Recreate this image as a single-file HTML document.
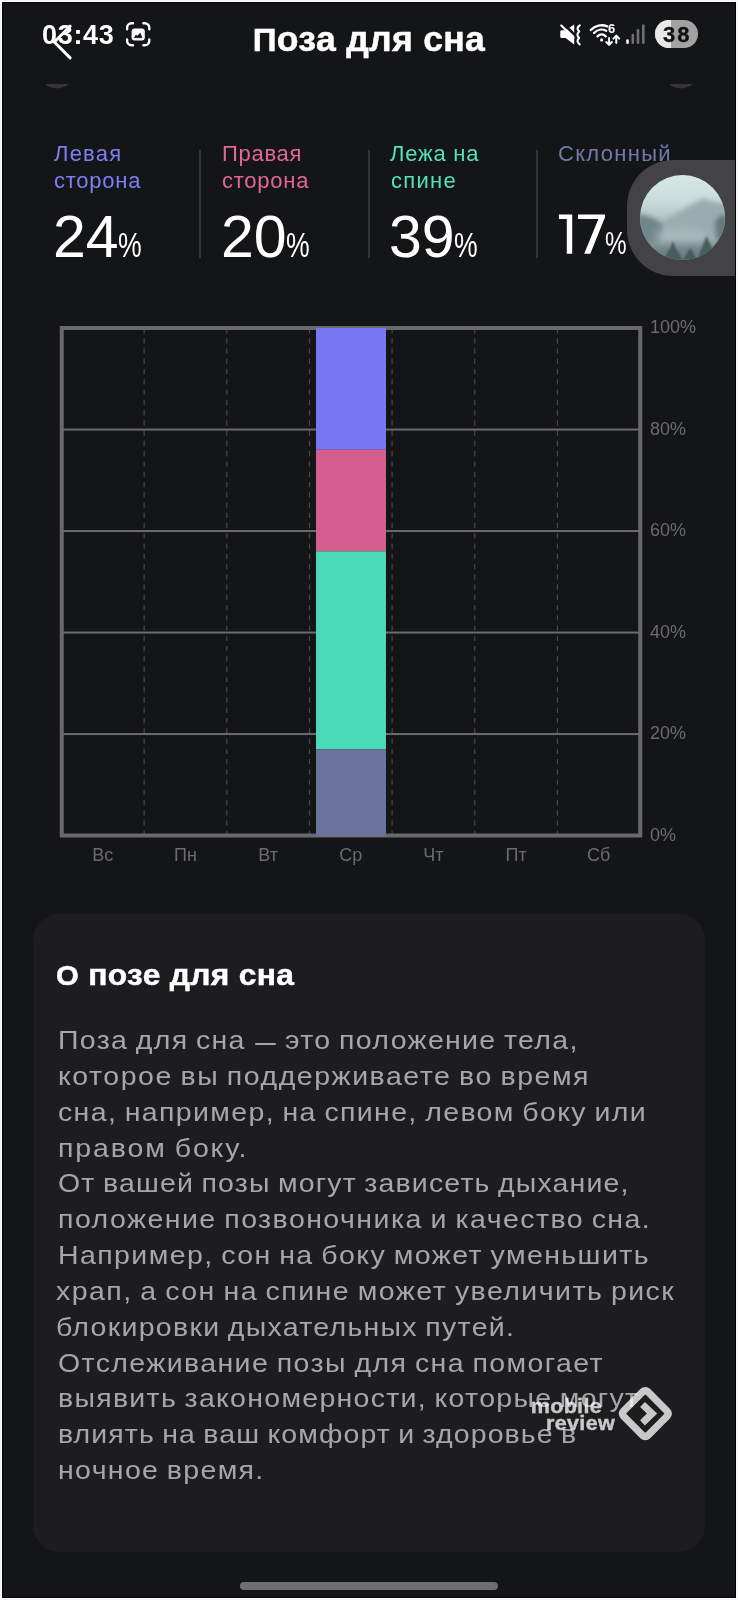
<!DOCTYPE html>
<html lang="ru">
<head>
<meta charset="utf-8">
<title>Поза для сна</title>
<style>
*{margin:0;padding:0;box-sizing:border-box}
html,body{width:738px;height:1600px;background:#f2f2f2;overflow:hidden}
#frame{position:absolute;left:1px;top:1px;width:736px;height:1598px;background:#fff}
body{font-family:"Liberation Sans",sans-serif;position:relative}
#screen{position:absolute;left:2px;top:2px;width:734px;height:1596px;background:#141517;overflow:hidden;border:1px solid #020203}
.abs{position:absolute}
/* coordinates inside #screen are page coords minus 3 (2px offset + 1px border) -> use wrapper */
#w{position:absolute;left:-3px;top:-3px;width:738px;height:1600px;will-change:transform}
.time{left:42px;top:19.8px;font-size:27px;line-height:30px;font-weight:bold;color:#fff;letter-spacing:.7px;white-space:nowrap}
.title{left:0;width:738px;top:19.3px;text-align:center;font-size:34.5px;line-height:40px;font-weight:bold;color:#fff;letter-spacing:.3px;transform:scaleX(1.031);-webkit-text-stroke:.5px #fff;white-space:nowrap}
.title .cap{font-size:32px}
.stat{top:140px;width:160px}
.stat .lbl{font-size:22px;line-height:27px;letter-spacing:.6px;white-space:nowrap}
.stat .num{position:absolute;left:-1px;top:63.5px;font-size:59px;line-height:66px;color:#fff;white-space:nowrap}
.stat .pct{display:inline-block;font-size:35px;transform:scaleX(.76);transform-origin:0 100%;margin-left:-1px}
.vdiv{top:150px;width:2px;height:108px;background:#353537}
.card{left:33px;top:914px;width:672px;height:638px;border-radius:26px;background:#1d1d1f}
.ctitle{left:56.3px;top:956.9px;font-size:30.3px;line-height:36px;font-weight:bold;color:#fff;letter-spacing:.3px;transform:scaleX(1.048);transform-origin:0 0;-webkit-text-stroke:.5px #fff;white-space:nowrap}
.ctitle .cap{font-size:28px}
.ln{left:57.5px;transform:scaleX(1.14);transform-origin:0 0;word-spacing:-1.5px;font-size:25px;line-height:36px;color:#a7a7a9;white-space:nowrap}
.dash{display:inline-block;width:18.9px;height:1.9px;background:#a7a7a9;vertical-align:3.9px;margin:0 1.2px}
.ylab{left:650px;font-size:18px;line-height:20px;color:#6c6c70;white-space:nowrap}
.xlab{top:845px;width:60px;text-align:center;font-size:18px;line-height:20px;color:#6c6c70;white-space:nowrap}
.wm{text-align:right;font-weight:bold;font-size:20.5px;line-height:22px;color:#fff;-webkit-text-stroke:.4px #fff;opacity:.76;letter-spacing:.3px;white-space:nowrap;transform:scaleX(1.05);transform-origin:100% 0}
.handle{left:240px;top:1582px;width:258px;height:8px;border-radius:4px;background:#6f6f71}
</style>
</head>
<body>
<div id="frame"></div>
<div id="screen"><div id="w">

<!-- header -->
<div class="abs time">03:43</div>
<div class="abs title"><span class="cap">П</span>оза для сна</div>


<!-- header icons -->
<svg class="abs" style="left:0;top:0" width="738" height="100" viewBox="0 0 738 100">
  <!-- hidden round buttons slivers -->
  <defs><clipPath id="cl"><rect x="0" y="84" width="738" height="10"/></clipPath></defs>
  <g clip-path="url(#cl)" fill="#343437"><circle cx="57" cy="70.2" r="18.2"/><circle cx="681" cy="70.2" r="18.2"/></g>
  <!-- back chevron -->
  <path d="M70.1 26.2 L54.3 42 L70.1 57.9" fill="none" stroke="#fff" stroke-width="3" stroke-linecap="round" stroke-linejoin="round"/>
  <!-- screenshot icon -->
  <g fill="none" stroke="#fff" stroke-width="2.4" stroke-linecap="round">
    <path d="M127.1 29.2 V27.8 a4.5 4.5 0 0 1 4.5 -4.5 H133"/>
    <path d="M143.4 23.3 H144.8 a4.5 4.5 0 0 1 4.5 4.5 V29.2"/>
    <path d="M149.3 39.4 V40.8 a4.5 4.5 0 0 1 -4.5 4.5 H143.4"/>
    <path d="M133 45.3 H131.6 a4.5 4.5 0 0 1 -4.5 -4.5 V39.4"/>
  </g>
  <rect x="131.6" y="28.4" width="13.2" height="12.2" rx="3" fill="#fff"/>
  <path d="M134.2 37.7 L136 34.9 L137.3 36.2 L140.2 33.1 L142 37.7 Z" fill="#141517" stroke="#141517" stroke-width=".6" stroke-linejoin="round"/>
  <!-- mute -->
  <path d="M560.3 31.6 a1.3 1.3 0 0 1 1.3 -1.3 H565.6 L574.2 24.6 V44.5 L565.6 38 H561.6 a1.3 1.3 0 0 1 -1.3 -1.3 Z" fill="#fff"/>
  <path d="M563.8 24 L575.5 35.7" stroke="#141517" stroke-width="2.6" fill="none"/>
  <path d="M561.3 25.5 L573.5 37.7" stroke="#fff" stroke-width="2.2" stroke-linecap="round" fill="none"/>
  <path d="M579.7 25.3 Q575.6 28.4 579.2 31.4 Q575.6 34.7 579.2 37.9 Q575.6 41.1 579.7 44.3" fill="none" stroke="#fff" stroke-width="2.1" stroke-linecap="round" stroke-linejoin="round"/>
  <!-- wifi -->
  <g fill="none" stroke="#fff" stroke-width="2.3" stroke-linecap="round">
    <path d="M590.8 30 A14.65 14.65 0 0 1 607.3 26.4"/>
    <path d="M594 33 A10.3 10.3 0 0 1 606.2 30.7"/>
    <path d="M597.4 36.4 A5.5 5.5 0 0 1 605.8 36.4"/>
  </g>
  <circle cx="601.6" cy="39.9" r="1.6" fill="#fff"/>
  <text x="607.9" y="33.4" font-family="Liberation Sans, sans-serif" font-weight="bold" font-size="13" fill="#fff">6</text>
  <g fill="none" stroke="#fff" stroke-width="2" stroke-linecap="round" stroke-linejoin="round">
    <path d="M609.1 38 V44.6 M606.3 42 L609.1 44.9 L611.9 42"/>
    <path d="M616.3 43 V36 M613.4 38.6 L616.3 35.6 L619.2 38.6"/>
  </g>
  <!-- signal -->
  <rect x="626.2" y="39.2" width="2.6" height="4.8" rx="1.3" fill="#fff"/>
  <rect x="631.5" y="33.8" width="2.6" height="10.2" rx="1.3" fill="#707072"/>
  <rect x="636.7" y="29" width="2.6" height="15" rx="1.3" fill="#707072"/>
  <rect x="642" y="24.3" width="2.6" height="19.7" rx="1.3" fill="#707072"/>
</svg>
<!-- battery -->
<div class="abs" style="left:654.5px;top:20px;width:43px;height:28px;border-radius:14px;overflow:hidden;background:#a2a2a2">
  <div style="position:absolute;left:0;top:0;width:16.5px;height:28px;background:#e9e9e9"></div>
  <div style="position:absolute;left:0;top:0;width:43px;height:28px;line-height:30px;text-align:center;font-weight:bold;font-size:22px;color:#111;letter-spacing:1.9px;padding-left:2.4px;-webkit-text-stroke:.3px #111">38</div>
</div>

<!-- stats -->
<div class="abs stat" style="left:54px"><div class="lbl" style="color:#7f7ff6"><span style="letter-spacing:1.2px">Левая</span><br><span style="letter-spacing:.75px">сторона</span></div><div class="num">24<span class="pct">%</span></div></div>
<div class="abs stat" style="left:222px"><div class="lbl" style="color:#e0679a"><span style="letter-spacing:.7px">Правая</span><br><span style="letter-spacing:.75px">сторона</span></div><div class="num">20<span class="pct">%</span></div></div>
<div class="abs stat" style="left:390px"><div class="lbl" style="color:#53e2bc"><span style="letter-spacing:.75px">Лежа на</span><br><span style="letter-spacing:1.3px;margin-left:1px">спине</span></div><div class="num">39<span class="pct">%</span></div></div>
<div class="abs stat" style="left:558px"><div class="lbl" style="color:#727aab"><span style="letter-spacing:1.3px">Склонный</span></div><svg style="position:absolute;left:0;top:70px" width="50" height="50" viewBox="558 210 50 50"><path d="M558.9 214.6 H572.2 V253.8 H566.8 V219 H558.9 Z M578 214.6 H605 V217.3 L590.3 253.8 H584.2 L598.4 219 H578 Z" fill="#fff"/></svg><div class="num" style="left:47.5px;top:61px"><span class="pct" style="font-size:32px">%</span></div></div>
<div class="abs vdiv" style="left:199.4px"></div>
<div class="abs vdiv" style="left:368px"></div>
<div class="abs vdiv" style="left:536px"></div>


<!-- floating widget -->
<div class="abs" style="left:626.5px;top:160px;width:140px;height:116px;border-radius:46px 0 0 46px;background:#434345"></div>
<svg class="abs" style="left:639.8px;top:175.3px" width="85" height="85" viewBox="0 0 84 84">
  <defs>
    <clipPath id="cc"><circle cx="42" cy="42" r="42"/></clipPath>
    <linearGradient id="sky" x1="0" y1="0" x2="0" y2="1">
      <stop offset="0" stop-color="#d6e7e6"/><stop offset=".3" stop-color="#cbdcdc"/><stop offset=".5" stop-color="#b4c6c7"/><stop offset=".75" stop-color="#9aaeaf"/><stop offset="1" stop-color="#7b9091"/>
    </linearGradient>
    <filter id="bl" x="-30%" y="-30%" width="160%" height="160%"><feGaussianBlur stdDeviation="2.6"/></filter>
    <filter id="bl2" x="-30%" y="-30%" width="160%" height="160%"><feGaussianBlur stdDeviation="1.1"/></filter>
    <filter id="bl3" x="-30%" y="-30%" width="160%" height="160%"><feGaussianBlur stdDeviation="4"/></filter>
  </defs>
  <g clip-path="url(#cc)">
    <rect width="84" height="84" fill="url(#sky)"/>
    <path d="M22 46 L36 38 L50 30 L62 23 L72 26 L90 30 V60 L60 58 L30 60 Z" fill="#98adae" filter="url(#bl)"/>
    <path d="M-6 38 L6 40 L16 44 L24 50 L20 66 L-6 70 Z" fill="#6f8688" filter="url(#bl)"/>
    <ellipse cx="40" cy="60" rx="26" ry="8" fill="#a9bbbc" filter="url(#bl3)" opacity=".8"/>
    <path d="M74 46 L80 40 L90 40 V70 L76 64 Z" fill="#62797a" filter="url(#bl)"/>
    <rect x="-5" y="70" width="95" height="20" fill="#6c8283" filter="url(#bl3)"/>
    <path d="M22 90 L26 78 L30 72 L32.5 65 L35 72 L39 78 L42 84 L47 76 L50 72 L53 78 L57 84 L60 74 L63.5 66 L66 60 L68.5 67 L72 74 L76 84 L78 90 Z" fill="#475b5c" filter="url(#bl2)"/>
  </g>
</svg>

<!-- chart -->
<svg class="abs" style="left:0;top:300px" width="738" height="580" viewBox="0 300 738 580">
<line x1="144.15" y1="328" x2="144.15" y2="835" stroke="#47474a" stroke-width="1.2" stroke-dasharray="5.3 4.96"/>
<line x1="226.80" y1="328" x2="226.80" y2="835" stroke="#47474a" stroke-width="1.2" stroke-dasharray="5.3 4.96"/>
<line x1="309.45" y1="328" x2="309.45" y2="835" stroke="#47474a" stroke-width="1.2" stroke-dasharray="5.3 4.96"/>
<line x1="392.10" y1="328" x2="392.10" y2="835" stroke="#47474a" stroke-width="1.2" stroke-dasharray="5.3 4.96"/>
<line x1="474.75" y1="328" x2="474.75" y2="835" stroke="#47474a" stroke-width="1.2" stroke-dasharray="5.3 4.96"/>
<line x1="557.40" y1="328" x2="557.40" y2="835" stroke="#47474a" stroke-width="1.2" stroke-dasharray="5.3 4.96"/>
<rect x="62" y="428.55" width="578" height="2" fill="#6c6c70"/>
<rect x="62" y="530.05" width="578" height="2" fill="#6c6c70"/>
<rect x="62" y="631.55" width="578" height="2" fill="#6c6c70"/>
<rect x="62" y="733.05" width="578" height="2" fill="#6c6c70"/>
<rect x="61.75" y="328" width="578.5" height="507.5" fill="none" stroke="#69696d" stroke-width="4"/>
<rect x="316" y="328" width="70" height="121.80" fill="#7878f3"/>
<rect x="316" y="449.8" width="70" height="101.50" fill="#d45f8e"/>
<rect x="316" y="551.3" width="70" height="197.90" fill="#49d9b7"/>
<rect x="316" y="749.2" width="70" height="87.00" fill="#6a739d"/>
</svg>

<div class="abs ylab" style="top:317.0px">100%</div>
<div class="abs ylab" style="top:418.5px">80%</div>
<div class="abs ylab" style="top:520.0px">60%</div>
<div class="abs ylab" style="top:621.5px">40%</div>
<div class="abs ylab" style="top:723.0px">20%</div>
<div class="abs ylab" style="top:824.5px">0%</div>
<div class="abs xlab" style="left:72.8px">Вс</div>
<div class="abs xlab" style="left:155.5px">Пн</div>
<div class="abs xlab" style="left:238.1px">Вт</div>
<div class="abs xlab" style="left:320.8px">Ср</div>
<div class="abs xlab" style="left:403.4px">Чт</div>
<div class="abs xlab" style="left:486.1px">Пт</div>
<div class="abs xlab" style="left:568.7px">Сб</div>

<!-- card -->
<div class="abs card"></div>
<div class="abs ctitle"><span class="cap">О</span> позе для сна</div>

<div class="abs ln" style="top:1021.9px;left:57.5px;letter-spacing:1.16px">Поза для сна <i class="dash"></i> это положение тела,</div>
<div class="abs ln" style="top:1057.8px;left:57.5px;letter-spacing:1.33px">которое вы поддерживаете во время</div>
<div class="abs ln" style="top:1093.6px;left:57.5px;letter-spacing:1.19px">сна, например, на спине, левом боку или</div>
<div class="abs ln" style="top:1129.5px;left:57.5px;letter-spacing:1.64px">правом боку.</div>
<div class="abs ln" style="top:1165.3px;left:57.5px;letter-spacing:1.02px">От вашей позы могут зависеть дыхание,</div>
<div class="abs ln" style="top:1201.2px;left:57.5px;letter-spacing:1.27px">положение позвоночника и качество сна.</div>
<div class="abs ln" style="top:1237.0px;left:57.5px;letter-spacing:1.24px">Например, сон на боку может уменьшить</div>
<div class="abs ln" style="top:1272.9px;left:56.0px;letter-spacing:1.28px">храп, а сон на спине может увеличить риск</div>
<div class="abs ln" style="top:1308.7px;left:55.9px;letter-spacing:1.13px">блокировки дыхательных путей.</div>
<div class="abs ln" style="top:1344.6px;left:57.5px;letter-spacing:1.22px">Отслеживание позы для сна помогает</div>
<div class="abs ln" style="top:1380.4px;left:57.5px;letter-spacing:1.13px">выявить закономерности, которые могут</div>
<div class="abs ln" style="top:1416.2px;left:57.5px;letter-spacing:0.96px">влиять на ваш комфорт и здоровье в</div>
<div class="abs ln" style="top:1452.1px;left:57.5px;letter-spacing:1.17px">ночное время.</div>


<!-- watermark -->
<div class="abs wm" style="left:400px;top:1394.7px;width:202px">mobile</div>
<div class="abs wm" style="left:400px;top:1412.3px;width:215px">review</div>
<svg class="abs" style="left:615px;top:1383px;opacity:.76" width="62" height="62" viewBox="615 1383 62 62">
  <g transform="rotate(45 645.3 1413.6)">
    <path fill-rule="evenodd" fill="#fff" d="M631.45 1392.75 H659.15 a7 7 0 0 1 7 7 V1427.45 a7 7 0 0 1 -7 7 H631.45 a7 7 0 0 1 -7 -7 V1399.75 a7 7 0 0 1 7 -7 Z M632.6 1399.9 a1 1 0 0 0 -1 1 V1426.3 a1 1 0 0 0 1 1 H658 a1 1 0 0 0 1 -1 V1400.9 a1 1 0 0 0 -1 -1 Z"/>
  </g>
  <path d="M644.9 1401.9 L657.2 1413.6 L644.9 1425.4 L640.1 1420.3 L646.9 1413.6 L640.1 1407 Z" fill="#fff"/>
</svg>

<div class="abs handle"></div>
</div></div>
</body>
</html>
